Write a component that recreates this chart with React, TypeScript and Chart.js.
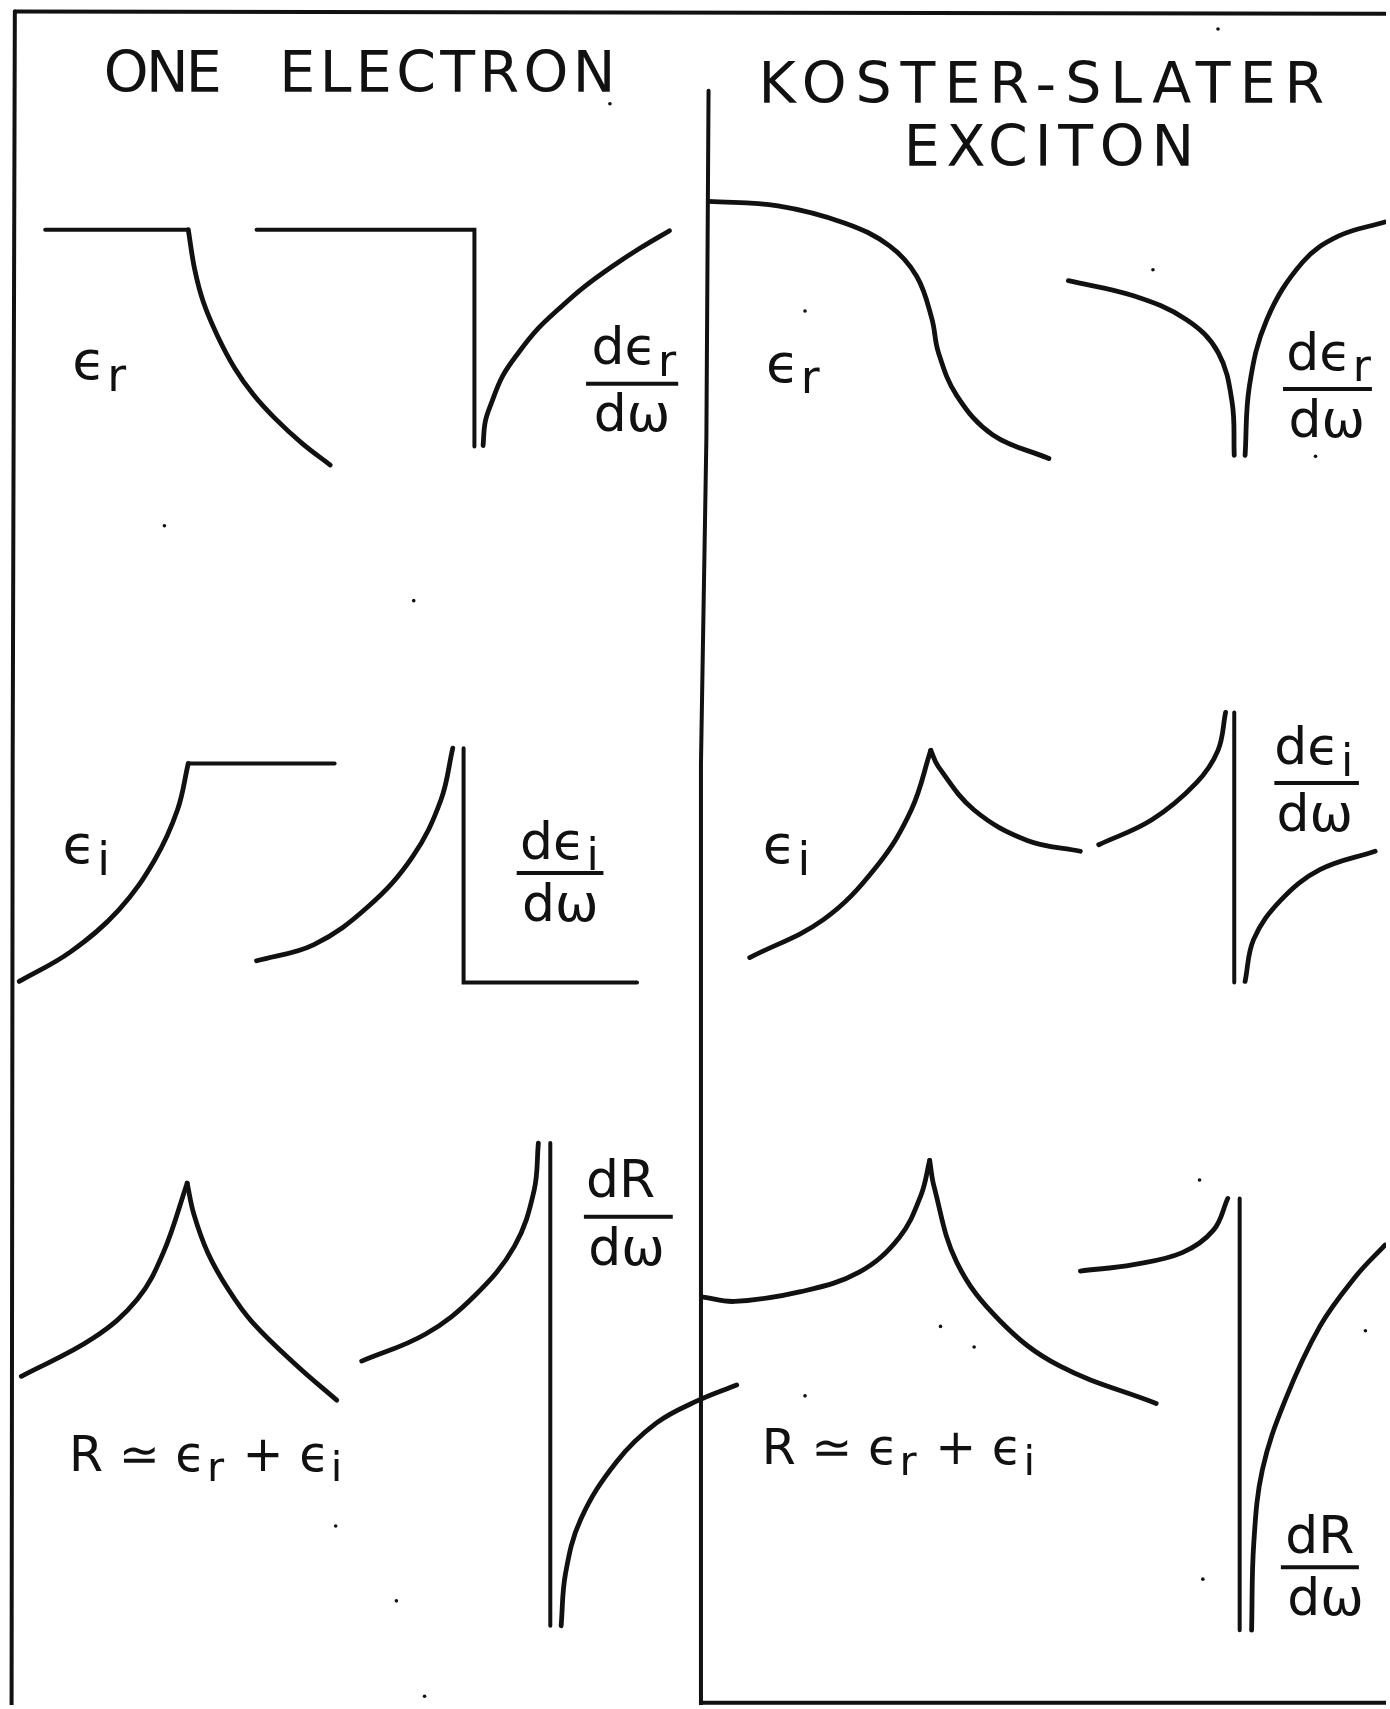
import React, { useEffect, useRef } from 'react';
import { Chart, registerables } from 'chart.js';

Chart.register(...registerables);

// ---- canvas & value space (in figure units) ----
const W = 1390;
const H = 1709;
const X_MAX = 1275;
const Y_MAX = 1568;
const INK = '#111111';
const FONT = '"DejaVu Sans", "Liberation Sans", sans-serif';

// ---- frame ----
const frameTop: number[][] = [[10, 7], [1275, 9]];
const frameLeft: number[][] = [[10, 7], [8, 700], [7, 1568]];
const divider: number[][] = [[650, 80], [648, 400], [643, 700], [643, 1568]];
const frameBottom: number[][] = [[643, 1566], [1275, 1566]];

// ---- ONE ELECTRON panel ----
const oneEpsRFlat: number[][] = [[38, 208], [170, 208]];
const oneEpsRDrop: number[][] = [[170, 208], [176, 245], [184, 275], [197, 306], [213, 336], [230, 360], [250, 382], [275, 405], [301, 425]];
const oneDEpsRStep: number[][] = [[233, 208], [434, 208], [434, 408]];
const oneDEpsRRise: number[][] = [[442, 407], [444, 385], [450, 367], [460, 343], [475, 321], [492, 300], [512, 281], [535, 261], [561, 242], [587, 225], [614, 209]];

const oneEpsIRise: number[][] = [[14, 901], [61, 874], [106, 835], [139, 789], [160, 743], [170, 700]];
const oneEpsIFlat: number[][] = [[170, 700], [305, 700]];
const oneDEpsIRise: number[][] = [[233, 882], [286, 867], [336, 832], [377, 786], [403, 734], [414, 686]];
const oneDEpsIStep: number[][] = [[424, 686], [424, 902], [584, 902]];

const oneRLeft: number[][] = [[16, 1265], [82, 1230], [123, 1194], [147, 1151], [169, 1087]];
const oneRRight: number[][] = [[169, 1087], [175, 1115], [188, 1151], [207, 1185], [229, 1215], [270, 1255], [307, 1287]];
const oneDRLeft: number[][] = [[330, 1251], [389, 1226], [434, 1191], [471, 1145], [489, 1094], [493, 1050]];
const oneDRVert: number[][] = [[504, 1050], [504, 1495]];
const oneDRRight: number[][] = [[514, 1495], [518, 1447], [532, 1397], [565, 1344], [602, 1308], [641, 1287], [676, 1273]];

// ---- KOSTER-SLATER EXCITON panel ----
const ksEpsR: number[][] = [[650, 182], [714, 186], [776, 202], [817, 223], [842, 251], [856, 290], [862, 321], [879, 361], [912, 397], [964, 419]];
const ksDEpsRLeft: number[][] = [[982, 255], [1042, 269], [1091, 291], [1120, 321], [1133, 367], [1135, 416]];
const ksDEpsRRight: number[][] = [[1145, 416], [1149, 352], [1165, 291], [1198, 238], [1231, 214], [1274, 201]];

const ksEpsILeft: number[][] = [[688, 879], [756, 844], [805, 795], [837, 743], [855, 688]];
const ksEpsIRight: number[][] = [[855, 688], [862, 703], [895, 743], [944, 771], [993, 781]];
const ksDEpsILeft: number[][] = [[1010, 775], [1059, 752], [1100, 718], [1120, 688], [1127, 653]];
const ksDEpsIVert: number[][] = [[1135, 653], [1135, 902]];
const ksDEpsIRight: number[][] = [[1145, 901], [1153, 862], [1178, 826], [1214, 798], [1265, 781]];

const ksRLeft: number[][] = [[645, 1192], [674, 1196], [735, 1187], [789, 1169], [826, 1137], [846, 1098], [854, 1066]];
const ksRRight: number[][] = [[854, 1066], [858, 1090], [879, 1160], [919, 1214], [973, 1255], [1063, 1290]];
const ksDRLeft: number[][] = [[993, 1168], [1042, 1162], [1087, 1151], [1116, 1130], [1129, 1101]];
const ksDRVert: number[][] = [[1140, 1101], [1140, 1499]];
const ksDRRight: number[][] = [[1151, 1499], [1153, 1419], [1161, 1351], [1182, 1287], [1214, 1219], [1247, 1173], [1274, 1144]];

// ---- specks of the original print ----
const specks: number[][] = [[378, 550], [148, 481], [306, 1403], [362, 1472], [864, 1219], [895, 1238], [1256, 1223], [1106, 1452], [1103, 1084], [739, 1283], [1120, 23], [1060, 245], [1210, 417], [739, 283], [559, 92], [388, 1560]];

// ---- texts ----
const titleTexts = ['ONE', 'ELECTRON', 'KOSTER-SLATER', 'EXCITON'];
const labelEps = 'ϵ';
const subR = 'r';
const subI = 'i';
const numD = 'dϵ';
const numDR = 'dR';
const denom = 'dω';
const reflText = 'R ≃ ϵ';
const plusText = ' + ϵ';

const straight = [frameTop, frameLeft, divider, frameBottom, oneEpsRFlat, oneDEpsRStep, oneEpsIFlat, oneDEpsIStep, oneDRVert, ksDEpsIVert, ksDRVert];
const smooth = [oneEpsRDrop, oneDEpsRRise, oneEpsIRise, oneDEpsIRise, oneRLeft, oneRRight, oneDRLeft, oneDRRight, ksEpsR, ksDEpsRLeft, ksDEpsRRight, ksEpsILeft, ksEpsIRight, ksDEpsILeft, ksDEpsIRight, ksRLeft, ksRRight, ksDRLeft, ksDRRight];

const toPts = (a: number[][]) => a.map(([x, y]) => ({ x, y }));

type Run = [string, boolean];

function drawRich(ctx: CanvasRenderingContext2D, x: number, y: number, runs: Run[], size: number) {
  let cx = x;
  for (const [t, sub] of runs) {
    const s = sub ? size * 0.85 : size;
    ctx.font = `${s}px ${FONT}`;
    ctx.fillText(t, cx, y + (sub ? size * 0.22 : 0));
    cx += ctx.measureText(t).width + (sub ? size * 0.06 : size * 0.03);
  }
}

const textPlugin = {
  id: 'figText',
  afterDatasetsDraw(chart: any) {
    const { ctx, scales } = chart;
    const px = (v: number) => scales.x.getPixelForValue(v);
    const py = (v: number) => scales.y.getPixelForValue(v);
    ctx.save();
    ctx.fillStyle = INK;
    ctx.strokeStyle = INK;
    ctx.textAlign = 'left';
    ctx.textBaseline = 'alphabetic';

    // titles, fitted to their width in the figure
    const titles: [string, number, number, number][] = [
      [titleTexts[0], 92, 201, 81],
      [titleTexts[1], 254, 564, 81],
      [titleTexts[2], 696, 1218, 91],
      [titleTexts[3], 830, 1098, 149],
    ];
    for (const [t, x0, x1, yb] of titles) {
      ctx.font = `57px ${FONT}`;
      (ctx as any).letterSpacing = '0px';
      const n = [...t].length;
      const w = ctx.measureText(t).width;
      const sp = (px(x1) - px(x0) - w) / (n - 1);
      (ctx as any).letterSpacing = `${sp}px`;
      ctx.fillText(t, px(x0), py(yb));
    }
    (ctx as any).letterSpacing = '0px';

    const S = 54;
    // standalone labels
    drawRich(ctx, px(63), py(346), [[labelEps, false], [subR, true]], S);
    drawRich(ctx, px(54), py(792), [[labelEps, false], [subI, true]], S);
    drawRich(ctx, px(703), py(348), [[labelEps, false], [subR, true]], S);
    drawRich(ctx, px(700), py(792), [[labelEps, false], [subI, true]], S);
    drawRich(ctx, px(60), py(1352), [[reflText, false], [subR, true], [plusText, false], [subI, true]], 49);
    drawRich(ctx, px(699), py(1346), [[reflText, false], [subR, true], [plusText, false], [subI, true]], 49);

    // fractions: numerator, bar, denominator
    const fracs: [Run[], number, number, number, number, number][] = [
      [[[numD, false], [subR, true]], 542, 332, 537, 622, 350],
      [[[numD, false], [subI, true]], 476, 788, 473, 553, 801],
      [[[numDR, false]], 537, 1100, 535, 617, 1118],
      [[[numD, false], [subR, true]], 1183, 337, 1180, 1262, 355],
      [[[numD, false], [subI, true]], 1172, 701, 1172, 1250, 718],
      [[[numDR, false]], 1182, 1428, 1178, 1250, 1441],
    ];
    ctx.lineWidth = 4;
    for (const [num, nx, ny, b0, b1, by] of fracs) {
      drawRich(ctx, px(nx), py(ny), num, 52);
      ctx.beginPath();
      ctx.moveTo(px(b0), py(by));
      ctx.lineTo(px(b1), py(by));
      ctx.stroke();
      ctx.font = `52px ${FONT}`;
      ctx.fillText(denom, px(nx + 2), py(by + 44));
    }
    ctx.restore();
  },
};

export default function App() {
  const ref = useRef<HTMLCanvasElement>(null);
  useEffect(() => {
    document.body.style.margin = '0';
    const datasets: any[] = [];
    for (const s of straight) {
      datasets.push({ data: toPts(s), showLine: true, borderColor: INK, borderWidth: 4, pointRadius: 0, tension: 0, fill: false, borderCapStyle: 'round', borderJoinStyle: 'miter' });
    }
    for (const s of smooth) {
      datasets.push({ data: toPts(s), showLine: true, borderColor: INK, borderWidth: 4.8, pointRadius: 0, tension: 0.38, fill: false, borderCapStyle: 'round' });
    }
    datasets.push({ data: toPts(specks), showLine: false, pointRadius: 1.8, pointBackgroundColor: INK, pointBorderWidth: 0, borderColor: INK });

    const chart = new Chart(ref.current as HTMLCanvasElement, {
      type: 'scatter',
      data: { datasets },
      options: {
        responsive: false,
        maintainAspectRatio: false,
        animation: false,
        devicePixelRatio: 1,
        layout: { padding: 0 },
        plugins: { legend: { display: false }, tooltip: { enabled: false }, title: { display: false } },
        events: [],
        scales: {
          x: { type: 'linear', min: 0, max: X_MAX, display: false },
          y: { type: 'linear', min: 0, max: Y_MAX, reverse: true, display: false },
        },
      },
      plugins: [textPlugin],
    } as any);
    return () => chart.destroy();
  }, []);
  return (
    <div style={{ position: 'absolute', left: 0, top: 0, width: W, height: H, background: '#fff' }}>
      <canvas ref={ref} width={W} height={H} style={{ display: 'block', width: W, height: H }} />
    </div>
  );
}
